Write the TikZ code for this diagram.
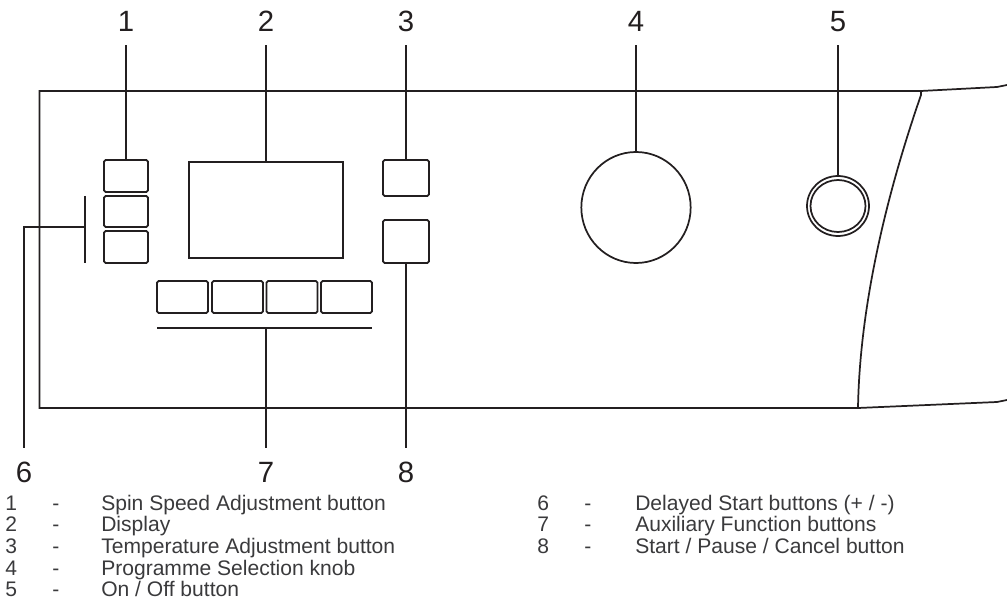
\documentclass[tikz,border=0pt]{standalone}
\usepackage{fontspec}
\setmainfont{Liberation Sans}
\usetikzlibrary{shapes.geometric}
\definecolor{ink}{HTML}{231F20}
\definecolor{legendtext}{HTML}{3A3A3C}
\tikzset{
  panelline/.style={draw=ink, line width=1.3pt},
  panelbtn/.style={panelline, rounded corners=1.2pt, inner sep=0pt, outer sep=0pt, minimum width=#1},
  dial/.style={panelline, ellipse, inner sep=0pt, outer sep=0pt},
  callout/.style={ink, inner sep=0pt, outer sep=10pt, text height=15.75pt, text depth=0pt, font=\fontsize{22}{24}\selectfont},
  legend/.style={legendtext, anchor=base west, inner sep=0pt, font=\fontsize{15.8}{19}\selectfont},
}
\begin{document}
\begin{tikzpicture}[x=0.75pt, y=-0.75pt]
  \useasboundingbox (0,0) rectangle (1007,599);

  % --- Panel outline ---
  \draw[panelline] (1007,85) -- (997,87) -- (921,91) -- (39.5,91) -- (39.5,408) -- (858,408) -- (997,402) -- (1007,400);
  \draw[panelline] (921,91) -- (921,95) .. controls (895,170) and (860,290) .. (858,408);

  % --- Buttons ---
  \node[panelbtn=33pt, minimum height=24pt] (spin) at (126,176) {};
  \node[panelbtn=33pt, minimum height=23.25pt] (delayplus) at (126,211.5) {};
  \node[panelbtn=33pt, minimum height=24pt] (delayminus) at (126,247) {};
  \node[panelbtn=34.5pt, minimum height=27pt] (temp) at (406,178) {};
  \node[panelbtn=34.5pt, minimum height=32.25pt] (start) at (406,241.5) {};
  \foreach \i/\x in {1/182.5, 2/237.5, 3/292, 4/346.5} {
    \node[panelbtn=38.25pt, minimum height=24pt] (aux\i) at (\x,297) {};
  }

  % --- Display ---
  \node[panelline, inner sep=0pt, outer sep=0pt, minimum width=115.5pt, minimum height=72pt] (display) at (266,210) {};

  % --- Knob and power button ---
  \node[dial, minimum width=82pt, minimum height=83.25pt] (knob) at (636,207.5) {};
  \node[dial, minimum width=46.5pt, minimum height=45pt] (onoff) at (838,206) {};
  \node[dial, minimum width=41.25pt, minimum height=39pt] (onoffin) at (838,206) {};

  % --- Brackets ---
  \coordinate (delaybar) at (85,227);
  \coordinate (auxbar) at (266,328);
  \draw[panelline] (85,196) -- (85,263);
  \draw[panelline] (157,328) -- (372,328);

  % --- Callout numbers ---
  \node[callout] (num1) at (126,21.5) {1};
  \node[callout] (num2) at (266,21.5) {2};
  \node[callout] (num3) at (406,21.5) {3};
  \node[callout] (num4) at (636,21.5) {4};
  \node[callout] (num5) at (838,21.5) {5};
  \node[callout] (num6) at (24,471.5) {6};
  \node[callout] (num7) at (266,471.5) {7};
  \node[callout] (num8) at (406,471.5) {8};

  % --- Leaders ---
  \draw[panelline] (num1) -- (spin);
  \draw[panelline] (num2) -- (display);
  \draw[panelline] (num3) -- (temp);
  \draw[panelline] (num4) -- (knob);
  \draw[panelline] (num5) -- (onoff);
  \draw[panelline] (delaybar) -| (num6);
  \draw[panelline] (num7) -- (auxbar);
  \draw[panelline] (num8) -- (start);

  % --- Legend ---
  \foreach \n/\y/\t in {1/510/{Spin Speed Adjustment button}, 2/531.7/{Display},
      3/553.3/{Temperature Adjustment button}, 4/575/{Programme Selection knob}, 5/596.5/{On / Off button}} {
    \node[legend] (leftnum\n) at (5,\y) {\n};
    \node[legend] (leftdash\n) at (52,\y) {-};
    \node[legend] (lefttext\n) at (101,\y) {\t};
  }
  \foreach \n/\y/\t in {6/510/{Delayed Start buttons (+ / -)}, 7/531.7/{Auxiliary Function buttons},
      8/553.3/{Start / Pause / Cancel button}} {
    \node[legend] (rightnum\n) at (537,\y) {\n};
    \node[legend] (rightdash\n) at (584,\y) {-};
    \node[legend] (righttext\n) at (635,\y) {\t};
  }
\end{tikzpicture}
\end{document}
